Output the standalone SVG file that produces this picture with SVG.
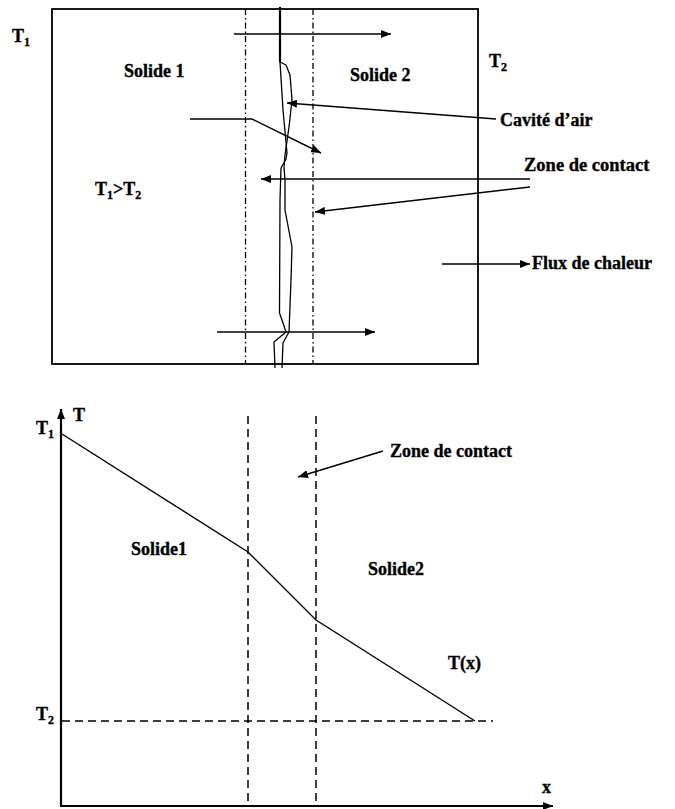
<svg xmlns="http://www.w3.org/2000/svg" width="675" height="809" viewBox="0 0 675 809">
<defs>
<marker id="ah" viewBox="0 0 10 8" refX="10" refY="4" markerWidth="10" markerHeight="8" markerUnits="userSpaceOnUse" orient="auto"><path d="M0,0 L10,4 L0,8 z" fill="#000"/></marker>
<style>
text{font-family:"Liberation Serif","Times New Roman",serif;font-weight:bold;font-size:18px;fill:#000;stroke:#000;stroke-width:0.35}
.sub{font-size:12px}
.ln{stroke:#000;stroke-width:1.4;fill:none}
.ax{stroke:#000;stroke-width:2.2;fill:none}
.dd{stroke:#000;stroke-width:1.3;fill:none;stroke-dasharray:6 3 1.5 3}
.ds{stroke:#000;stroke-width:1.5;fill:none;stroke-dasharray:8 5}
.cr{stroke:#000;stroke-width:1.3;fill:none;stroke-linejoin:round}
</style>
</defs>
<rect width="675" height="809" fill="#fff"/>
<g id="top-block">
<rect x="52" y="9" width="426" height="355" fill="none" stroke="#000" stroke-width="1.8"/>
<line class="dd" x1="245.5" y1="9" x2="245.5" y2="364"/>
<line class="dd" x1="313" y1="9" x2="313" y2="364"/>
</g>
<g id="crack">
<path d="M280,7 L280,62" stroke="#000" stroke-width="2.2" fill="none"/>
<path class="cr" d="M280,62 L283,110 L287,153 L286,159 L281,168 L280,200 L279.5,313 L282,320 L286,332 L274,342 L275,368"/>
<path class="cr" d="M280,62 L286,65 L290,75 L292,100 L289,127 L285,155 L284,167 L285,180 L285,210 L292,247 L291,280 L289,332 L283,343 L282,368"/>
</g>
<g id="labels-top">
<text x="12" y="42">T<tspan class="sub" dy="4">1</tspan></text>
<text x="124" y="77">Solide 1</text>
<text x="350" y="81">Solide 2</text>
<text x="489" y="67">T<tspan class="sub" dy="4">2</tspan></text>
<text x="95" y="195">T<tspan class="sub" dy="4">1</tspan><tspan dy="-4">&gt;T</tspan><tspan class="sub" dy="4">2</tspan></text>
<text x="500" y="126">Cavité d’air</text>
<text x="524" y="171" style="font-size:18.5px">Zone de contact</text>
<text x="532" y="269">Flux de chaleur</text>
</g>
<g id="connectors-top">
<line class="ln" x1="234" y1="34" x2="391" y2="34" marker-end="url(#ah)"/>
<line class="ln" x1="496" y1="119" x2="287" y2="103" marker-end="url(#ah)"/>
<polyline class="ln" points="190,119 252,119 321,153" marker-end="url(#ah)"/>
<line class="ln" x1="530" y1="179" x2="261" y2="179" marker-end="url(#ah)"/>
<line class="ln" x1="530" y1="187" x2="315" y2="212" marker-end="url(#ah)"/>
<line class="ln" x1="442" y1="264" x2="530" y2="264" marker-end="url(#ah)"/>
<line class="ln" x1="217" y1="332" x2="375" y2="332" marker-end="url(#ah)"/>
</g>
<g id="chart">
<line class="ax" x1="61" y1="806" x2="61" y2="409" marker-end="url(#ah)"/>
<line class="ax" x1="60" y1="806" x2="553" y2="806" marker-end="url(#ah)"/>
<line class="ds" x1="248" y1="416" x2="248" y2="805"/>
<line class="ds" x1="316" y1="416" x2="316" y2="805"/>
<line class="ds" x1="62" y1="721" x2="493" y2="721"/>
<polyline class="ln" points="62,434 248,552 316,620 475,721"/>
<line class="ln" x1="383" y1="451" x2="298" y2="477" marker-end="url(#ah)"/>
</g>
<g id="labels-chart">
<text x="73" y="421">T</text>
<text x="36" y="434">T<tspan class="sub" dy="4">1</tspan></text>
<text x="36" y="720">T<tspan class="sub" dy="4">2</tspan></text>
<text x="390" y="457">Zone de contact</text>
<text x="131" y="555">Solide1</text>
<text x="368" y="575">Solide2</text>
<text x="448" y="669">T(x)</text>
<text x="542" y="793">x</text>
</g>
</svg>
